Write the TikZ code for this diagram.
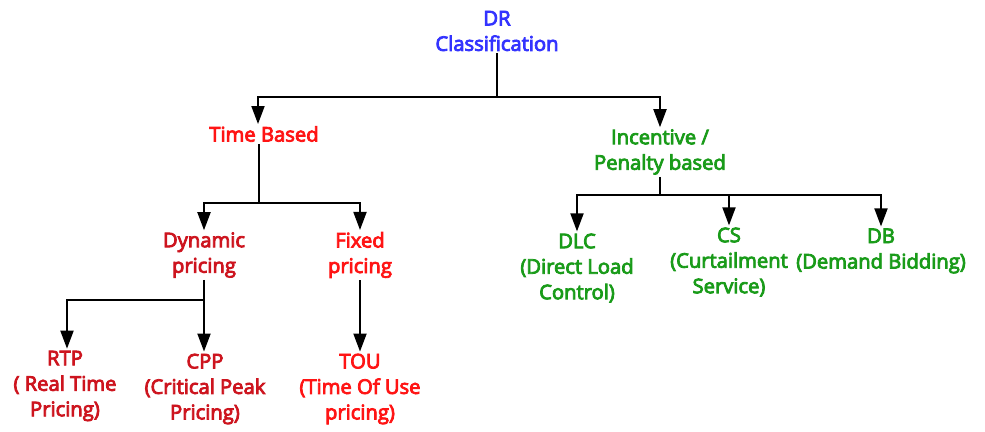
\documentclass[tikz,border=0pt]{standalone}
\usepackage{fontspec}
\setmainfont{Open Sans}
\newfontfamily\lblfont{Open Sans}[FakeBold=4]
\usetikzlibrary{arrows.meta}
\definecolor{cblue}{RGB}{51,51,255}
\definecolor{cred}{RGB}{255,20,20}
\definecolor{cdred}{RGB}{205,20,30}
\definecolor{cgreen}{RGB}{25,155,25}
\tikzset{
  lbl/.style={align=center,inner sep=2pt,font=\lblfont\fontsize{20.2}{25.5}\selectfont},
  conn/.style={line width=1.9pt,black},
  arr/.style={conn,-{Triangle[width=13pt,length=18pt]}},
}
\begin{document}
\begin{tikzpicture}[x=1pt,y=-1pt]
\useasboundingbox (0,0) rectangle (985,431);
\fill[white] (0,0) rectangle (985,431);
% nodes
\node[lbl,text=cblue] (dr) at (497,31) {DR\\Classification};
\node[lbl,text=cred] (tb) at (264,134) {Time Based};
\node[lbl,text=cgreen] (ip) at (660,152) {Incentive /\\Penalty based};
\node[lbl,text=cdred] (dyn) at (204,255) {Dynamic\\pricing};
\node[lbl,text=cred] (fix) at (360,255) {Fixed\\pricing};
\node[lbl,text=cdred] (rtp) at (65,386) {RTP\\( Real Time\\Pricing)};
\node[lbl,text=cdred] (cpp) at (205,389) {CPP\\(Critical Peak\\Pricing)};
\node[lbl,text=cred] (tou) at (360,389) {TOU\\(Time Of Use\\pricing)};
\node[lbl,text=cgreen] (dlc) at (577,268) {DLC\\(Direct Load\\Control)};
\node[lbl,text=cgreen] (cs) at (729,262) {CS\\(Curtailment\\Service)};
\node[lbl,text=cgreen] (db) at (881,251) {DB\\(Demand Bidding)};
% junctions
\coordinate (j1) at (497,97);
\coordinate (j2) at (259,203);
\coordinate (j3) at (204,300);
\coordinate (j4) at (660,195);
% connectors
\draw[conn] (dr.south) -- (j1);
\draw[arr] (j1) -| ([xshift=-6pt]tb.north);
\draw[arr] (j1) -| (ip.north);
\draw[conn] ([xshift=-5pt]tb.south) -- (j2);
\draw[arr] (j2) -| (dyn.north);
\draw[arr] (j2) -| (fix.north);
\draw[conn] (dyn.south) -- (j3);
\draw[arr] (j3) -| ([xshift=2pt]rtp.north);
\draw[arr] (j3) -- (cpp.north -| j3);
\draw[arr] (fix.south) -- (tou.north);
\draw[conn] (ip.south) -- (j4);
\draw[arr] (j4) -| (dlc.north);
\draw[arr] (j4) -| (cs.north);
\draw[arr] (j4) -| (db.north);
\end{tikzpicture}
\end{document}
